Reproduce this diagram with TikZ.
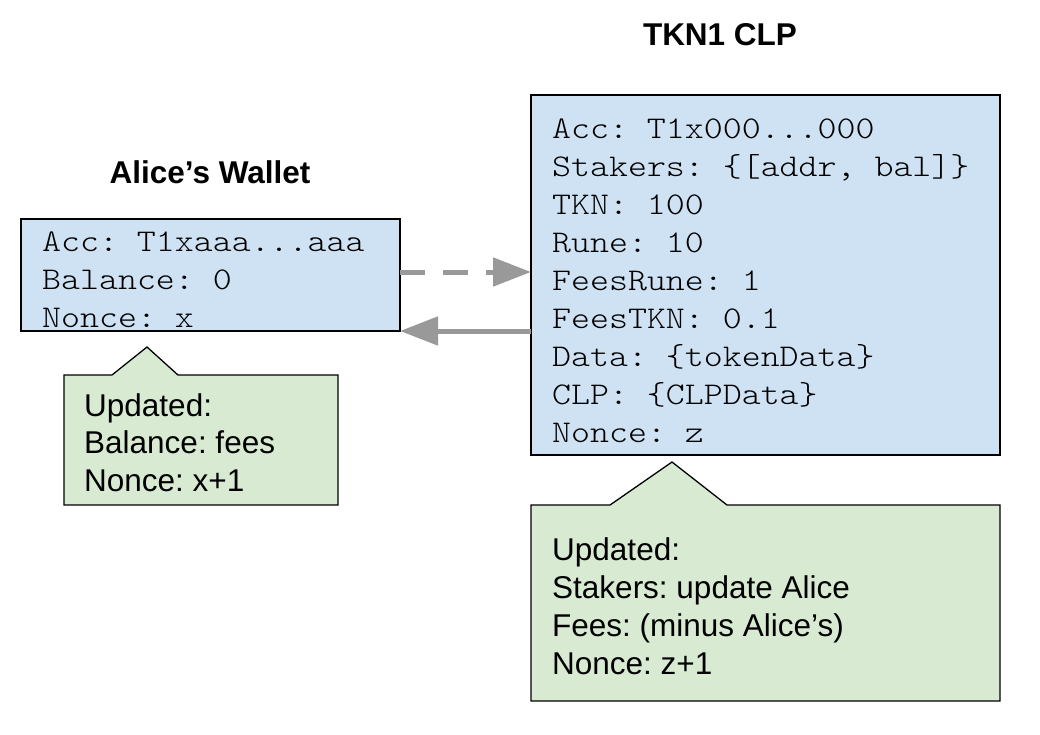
\documentclass[tikz,border=0pt]{standalone}
\usepackage{fontspec}
\setmainfont{Liberation Sans}
\newfontfamily\courfont[FakeStretch=1.143]{Latin Modern Mono Light}
\usetikzlibrary{arrows.meta}
\definecolor{boxblue}{HTML}{CFE2F3}
\definecolor{boxgreen}{HTML}{D9EAD3}
\definecolor{arrowgray}{HTML}{999999}
\frenchspacing
\tikzset{
  bluebox/.style={draw=black, fill=boxblue, line width=1.3pt, inner sep=0pt, outer sep=0pt, anchor=north west},
  notebox/.style={draw=black, fill=boxgreen, line width=1.3pt},
  monotext/.style={font=\courfont\fontsize{31.6}{38}\selectfont\frenchspacing, inner sep=0pt, anchor=base west},
  sanstext/.style={font=\fontsize{31.5}{38}\selectfont, inner sep=0pt, anchor=base west},
  titletext/.style={font=\fontsize{31.5}{38}\selectfont\bfseries, inner sep=0pt, anchor=base},
  flow/.style={draw=arrowgray, line width=5pt, -{Triangle[length=38pt,width=28pt]}},
}
\begin{document}
\begin{tikzpicture}[x=1pt,y=-1pt]
\useasboundingbox (0,0) rectangle (1040,734);

% titles
\node[titletext] (t1) at (720,45) {TKN1 CLP};
\node[titletext] (t2) at (210,183) {Alice’s Wallet};

% wallet box
\node[bluebox, minimum width=379pt, minimum height=112pt] (wallet) at (21,219) {};
\node[monotext] (w1) at (42,251) {Acc: T1xaaa...aaa};
\node[monotext] (w2) at (42,289) {Balance: 0};
\node[monotext] (w3) at (42,327) {Nonce: x};

% CLP box
\node[bluebox, minimum width=469pt, minimum height=360pt] (clp) at (531,95) {};
\node[monotext] (c1) at (552,138) {Acc: T1x000...000};
\node[monotext] (c2) at (552,176) {Stakers: \{[addr, bal]\}};
\node[monotext] (c3) at (552,214) {TKN: 100};
\node[monotext] (c4) at (552,252) {Rune: 10};
\node[monotext] (c5) at (552,290) {FeesRune: 1};
\node[monotext] (c6) at (552,328) {FeesTKN: 0.1};
\node[monotext] (c7) at (552,366) {Data: \{tokenData\}};
\node[monotext] (c8) at (552,404) {CLP: \{CLPData\}};
\node[monotext] (c9) at (552,442) {Nonce: z};

% callouts
\draw[notebox] (64,375) -- (112,375) -- (147,347) -- (178,375) -- (338,375)
  -- (338,505) -- (64,505) -- cycle;
\node[sanstext] (n1) at (84,416) {Updated:};
\node[sanstext] (n2) at (84,453) {Balance: fees};
\node[sanstext] (n3) at (84,491) {Nonce: x+1};

\draw[notebox] (531,505) -- (610,505) -- (672,462) -- (727,505) -- (1000,505)
  -- (1000,701) -- (531,701) -- cycle;
\node[sanstext] (m1) at (552,560) {Updated:};
\node[sanstext] (m2) at (552,598) {Stakers: update Alice};
\node[sanstext] (m3) at (552,636) {Fees: (minus Alice’s)};
\node[sanstext] (m4) at (552,674) {Nonce: z+1};

% arrows
\coordinate (dstart) at ([yshift=3pt]wallet.east);
\draw[flow, dash pattern=on 25pt off 18pt] (dstart) -- (dstart -| clp.west);
\draw[flow] (clp.west |- wallet.south east) -- (wallet.south east);
\end{tikzpicture}
\end{document}
